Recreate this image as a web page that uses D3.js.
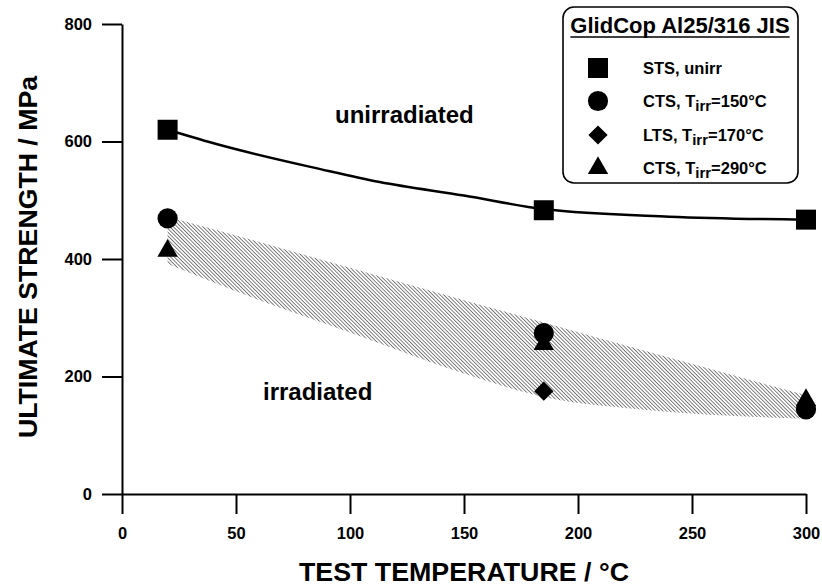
<!DOCTYPE html>
<html>
<head>
<meta charset="utf-8" />
<title>Ultimate strength vs test temperature</title>
<script src="https://cdnjs.cloudflare.com/ajax/libs/d3/7.8.5/d3.min.js"></script>
<style>
  body { margin: 0; padding: 0; background: #fff; }
  svg text { font-family: "Liberation Sans", Arial, sans-serif; font-weight: bold; fill: #000; }
</style>
</head>
<body>
<svg id="chart" width="822" height="588"></svg>
<script>
// data
var xTicks = [0, 50, 100, 150, 200, 250, 300];
var yTicks = [0, 200, 400, 600, 800];

var stsT = [20, 185, 300];
var stsV = [620, 483, 467];

var cts150T = [20, 185, 300];
var cts150V = [469, 274, 144];

var lts170T = [185];
var lts170V = [175];

var cts290T = [20, 185, 300];
var cts290V = [414, 255, 160];

// fitted curve through unirradiated points
var fitT = [20, 43, 87, 113, 150, 185, 240, 300];
var fitV = [620, 594, 553, 531, 508, 485, 472, 467];

// scatter band of irradiated results
var bandT = [20, 50, 100, 150, 185, 230, 300];
var bandUpper = [472, 440, 385, 330, 292, 243, 168];
var bandLower = [392, 345, 275, 205, 165, 143, 128];

var legendLabels = [
  ["STS, unirr", null, ""],
  ["CTS, T", "irr", "=150°C"],
  ["LTS, T", "irr", "=170°C"],
  ["CTS, T", "irr", "=290°C"]
];

var svg = d3.select("#chart");

var x = d3.scaleLinear().domain([0, 300]).range([122, 806]);
var y = d3.scaleLinear().domain([0, 800]).range([494, 24]);

// hatch pattern
var defs = svg.append("defs");
var pat = defs.append("pattern")
  .attr("id", "hatch")
  .attr("patternUnits", "userSpaceOnUse")
  .attr("width", 2.6).attr("height", 2.6)
  .attr("patternTransform", "rotate(45)");
pat.append("line")
  .attr("x1", 0).attr("y1", 1.3).attr("x2", 2.6).attr("y2", 1.3)
  .attr("stroke", "#555").attr("stroke-width", 0.75);

var band = bandT.map(function(t, i) { return { t: t, lo: bandLower[i], hi: bandUpper[i] }; });
svg.append("path")
  .datum(band)
  .attr("d", d3.area()
    .x(function(d) { return x(d.t); })
    .y0(function(d) { return y(d.lo); })
    .y1(function(d) { return y(d.hi); })
    .curve(d3.curveMonotoneX))
  .attr("fill", "url(#hatch)");

// axes
var xAxis = d3.axisBottom(x).tickValues(xTicks).tickSize(20).tickSizeOuter(0).tickPadding(13);
var yAxis = d3.axisLeft(y).tickValues(yTicks).tickSize(20).tickSizeOuter(0).tickPadding(10);

var gx = svg.append("g").attr("transform", "translate(0," + y(0) + ")").call(xAxis);
var gy = svg.append("g").attr("transform", "translate(" + x(0) + ",0)").call(yAxis);

[gx, gy].forEach(function(g) {
  g.selectAll("path, line").attr("stroke", "#000").attr("stroke-width", 2);
  g.selectAll("text")
    .style("font-family", '"Liberation Sans", Arial, sans-serif')
    .style("font-weight", "bold")
    .style("font-size", "16.5px")
    .attr("fill", "#000");
});

// axis titles
svg.append("text")
  .attr("x", 464).attr("y", 581)
  .attr("text-anchor", "middle")
  .attr("textLength", 330).attr("lengthAdjust", "spacingAndGlyphs")
  .style("font-size", "25px")
  .text("TEST TEMPERATURE / °C");

svg.append("text")
  .attr("transform", "translate(37,257) rotate(-90)")
  .attr("text-anchor", "middle")
  .attr("textLength", 362).attr("lengthAdjust", "spacingAndGlyphs")
  .style("font-size", "25px")
  .text("ULTIMATE STRENGTH / MPa");

// fit line
var fit = fitT.map(function(t, i) { return [t, fitV[i]]; });
svg.append("path")
  .datum(fit)
  .attr("d", d3.line()
    .x(function(d) { return x(d[0]); })
    .y(function(d) { return y(d[1]); })
    .curve(d3.curveMonotoneX))
  .attr("fill", "none")
  .attr("stroke", "#000")
  .attr("stroke-width", 2.5);

// markers
var shapes = {
  square: { type: d3.symbolSquare, size: 400, rot: 0 },
  circle: { type: d3.symbolCircle, size: 320, rot: 0 },
  diamond: { type: d3.symbolSquare, size: 185, rot: 45 },
  triangle: { type: d3.symbolTriangle, size: 180, rot: 0 }
};

function drawPoints(ts, vs, shape) {
  var s = shapes[shape];
  svg.append("g").selectAll("path")
    .data(ts.map(function(t, i) { return [t, vs[i]]; }))
    .join("path")
    .attr("d", d3.symbol().type(s.type).size(s.size))
    .attr("transform", function(d) {
      return "translate(" + x(d[0]) + "," + y(d[1]) + ") rotate(" + s.rot + ")";
    })
    .attr("fill", "#000");
}

drawPoints(cts290T, cts290V, "triangle");
drawPoints(cts150T, cts150V, "circle");
drawPoints(lts170T, lts170V, "diamond");
drawPoints(stsT, stsV, "square");

// region labels
svg.append("text").attr("x", 335).attr("y", 123).style("font-size", "24px").text("unirradiated");
svg.append("text").attr("x", 263).attr("y", 400).style("font-size", "24px").text("irradiated");

// legend
var lg = svg.append("g");
lg.append("rect")
  .attr("x", 563).attr("y", 7).attr("width", 235).attr("height", 176)
  .attr("rx", 11).attr("ry", 11)
  .attr("fill", "#fff").attr("stroke", "#000").attr("stroke-width", 1.6);

var lt = lg.append("text")
  .attr("x", 680).attr("y", 33)
  .attr("text-anchor", "middle")
  .style("font-size", "22px")
  .text("GlidCop Al25/316 JIS");
var tw = lt.node().getComputedTextLength();
lg.append("line")
  .attr("x1", 680 - tw / 2).attr("x2", 680 + tw / 2)
  .attr("y1", 37).attr("y2", 37)
  .attr("stroke", "#000").attr("stroke-width", 1.6);

var legendShapes = ["square", "circle", "diamond", "triangle"];
var rowY = [68, 101, 135, 168];
legendShapes.forEach(function(sh, i) {
  var s = shapes[sh];
  lg.append("path")
    .attr("d", d3.symbol().type(s.type).size(s.size)())
    .attr("transform", "translate(598," + rowY[i] + ") rotate(" + s.rot + ")")
    .attr("fill", "#000");
  var t = lg.append("text")
    .attr("x", 643).attr("y", rowY[i] + 6)
    .style("font-size", "16.5px");
  t.append("tspan").text(legendLabels[i][0]);
  if (legendLabels[i][1]) {
    t.append("tspan").attr("dy", 4).style("font-size", "15px").text(legendLabels[i][1]);
    t.append("tspan").attr("dy", -4).text(legendLabels[i][2]);
  }
});
</script>
</body>
</html>
